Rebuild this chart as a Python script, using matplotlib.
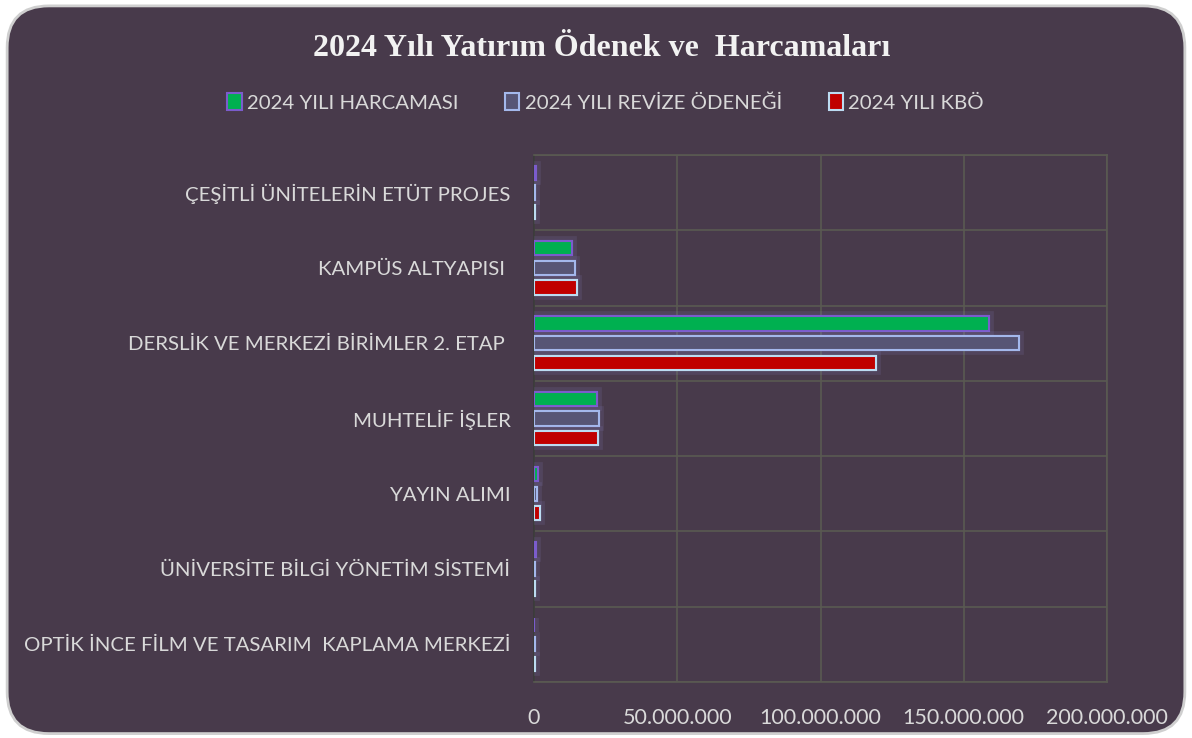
import numpy as np
import matplotlib as mpl
mpl.use('Agg')
import matplotlib.pyplot as plt
from matplotlib.patches import FancyBboxPatch, Patch
import matplotlib.patheffects as pe

# data (TL), top to bottom as shown
categories = ['ÇEŞİTLİ ÜNİTELERİN ETÜT PROJES',
              'KAMPÜS ALTYAPISI ',
              'DERSLİK VE MERKEZİ BİRİMLER 2. ETAP ',
              'MUHTELİF İŞLER',
              'YAYIN ALIMI',
              'ÜNİVERSİTE BİLGİ YÖNETİM SİSTEMİ',
              'OPTİK İNCE FİLM VE TASARIM  KAPLAMA MERKEZİ']
harcama = [0.7e6, 13.3e6, 158.8e6, 22.0e6, 1.4e6, 0.6e6, 0.0]
revize = [0.5e6, 14.3e6, 169.3e6, 22.7e6, 1.0e6, 0.5e6, 0.4e6]
kbo = [0.5e6, 15.0e6, 119.4e6, 22.3e6, 2.1e6, 0.5e6, 0.4e6]
series_names = ['2024 YILI HARCAMASI', '2024 YILI REVİZE ÖDENEĞİ', '2024 YILI KBÖ']
xticks = [0, 50e6, 100e6, 150e6, 200e6]

bg = '#483a4b'
txt = '#d9d9d9'
grid = '#5a5a52'

fig = plt.figure(figsize=(11.92, 7.38), dpi=100, facecolor='white')
panel = FancyBboxPatch((0.006, 0.006), 0.988, 0.986, boxstyle='round,pad=0,rounding_size=0.035',
                       transform=fig.transFigure, facecolor=bg, edgecolor='#cfcfcf',
                       linewidth=2, mutation_aspect=1192/738, zorder=-10)
fig.patches.append(panel)

ax = fig.add_axes([0.448, 0.076, 0.4807, 0.714])
ax.set_facecolor('none')

n = len(categories)
y = np.arange(n)[::-1]
h = 0.19
off = 0.26
glow = [pe.withStroke(linewidth=7, foreground='#9a90e0', alpha=0.12), pe.Normal()]
ax.barh(y + off, harcama, height=h, color='#00b050', edgecolor='#7b5ccc', linewidth=1.5,
        path_effects=glow, label=series_names[0], zorder=3)
ax.barh(y, revize, height=h, color='#575575', edgecolor='#a4b8ec', linewidth=1.5,
        path_effects=glow, label=series_names[1], zorder=3)
ax.barh(y - off, kbo, height=h, color='#c00000', edgecolor='#bcdcf2', linewidth=1.5,
        path_effects=glow, label=series_names[2], zorder=3)

ax.set_xlim(0, 200e6)
ax.set_ylim(-0.5, n - 0.5)
ax.set_xticks(xticks)
ax.set_xticklabels(['{:,.0f}'.format(v).replace(',', '.') for v in xticks])
ax.set_yticks(y)
ax.set_yticklabels(categories)
ax.set_yticks(np.arange(-0.5, n), minor=True)
ax.grid(True, axis='x', color=grid, linewidth=1.2, zorder=0)
ax.grid(True, axis='y', which='minor', color=grid, linewidth=1.2, zorder=0)
ax.set_axisbelow(True)
ax.tick_params(axis='both', which='both', length=0, colors=txt)
ax.tick_params(axis='y', pad=17, labelsize=14.7)
ax.tick_params(axis='x', pad=19, labelsize=15.5)
for lab in ax.get_xticklabels() + ax.get_yticklabels():
    lab.set_fontfamily('Lato')
for s in ['top', 'bottom', 'right']:
    ax.spines[s].set_color(grid)
    ax.spines[s].set_linewidth(1.2)
ax.spines['left'].set_color('#3a3a3a')
ax.spines['left'].set_linewidth(1.2)

fig.text(0.505, 0.934, '2024 Yılı Yatırım Ödenek ve  Harcamaları', ha='center', va='center',
         fontsize=23, fontweight='bold', family='Liberation Serif', color='#f2f2f2')

handles = [Patch(facecolor='#00b050', edgecolor='#7b5ccc', linewidth=1.5),
           Patch(facecolor='#575575', edgecolor='#a4b8ec', linewidth=1.5),
           Patch(facecolor='#c00000', edgecolor='#bcdcf2', linewidth=1.5)]
leg = fig.legend(handles, series_names, loc='center', bbox_to_anchor=(0.508, 0.861), ncol=3,
                 frameon=False, handlelength=0.7, handleheight=0.9, handletextpad=0.25,
                 columnspacing=2.3, prop={'family': 'Lato', 'size': 14.7})
for t in leg.get_texts():
    t.set_color(txt)

fig.savefig('out.png', dpi=100, facecolor='white')
